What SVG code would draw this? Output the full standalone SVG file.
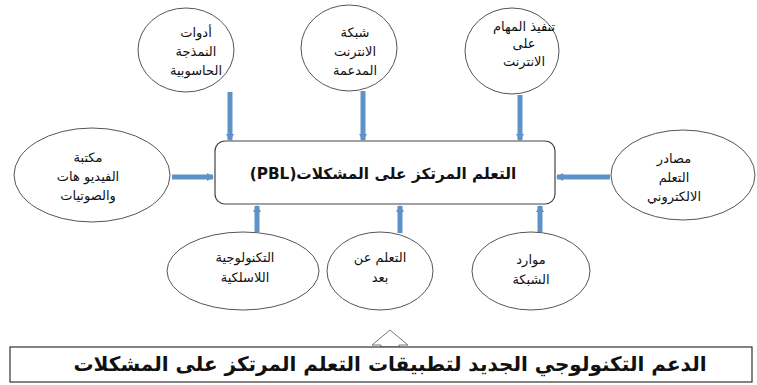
<svg xmlns="http://www.w3.org/2000/svg" width="757" height="385" viewBox="0 0 757 385">
<style>
.el{fill:#fff;stroke:#555;stroke-width:1}
.t{font-family:"DejaVu Sans","Noto Sans",sans-serif;font-size:13px;fill:#111;text-anchor:middle;direction:rtl;unicode-bidi:embed}
.b{font-weight:bold}
.c{stroke:#5f93c8;stroke-width:5;fill:none;marker-end:url(#ah)}
</style>
<defs>
<marker id="ah" markerUnits="userSpaceOnUse" markerWidth="10" markerHeight="10" refX="6" refY="5" orient="auto">
<path d="M0,1 L7,5 L0,9 Z" fill="#5f93c8"/>
</marker>
</defs>
<rect width="757" height="385" fill="#fff"/>
<g id="connectors">
<line class="c" x1="230" y1="92" x2="230" y2="140"/>
<line class="c" x1="363" y1="91" x2="363" y2="140"/>
<line class="c" x1="520" y1="95" x2="520" y2="140"/>
<line class="c" x1="172" y1="177" x2="213" y2="177"/>
<line class="c" x1="610" y1="177" x2="557" y2="177"/>
<line class="c" x1="257" y1="232" x2="257" y2="206"/>
<line class="c" x1="400" y1="233" x2="400" y2="206"/>
<line class="c" x1="540" y1="232" x2="540" y2="206"/>
<polygon points="390,330 408,345 399,345 399,347 381,347 381,345 372,345" fill="#fff" stroke="#777" stroke-width="1"/>
</g>
<g id="center">
<rect x="215" y="141" width="340" height="63" rx="10" fill="#fff" stroke="#444" stroke-width="1.2"/>
<text class="t b" x="383" y="179" style="font-size:15.3px">التعلم المرتكز على المشكلات(PBL)</text>
</g>
<g id="n1">
<ellipse class="el" cx="186" cy="50" rx="48" ry="42"/>
<text class="t" x="196" y="37">أدوات</text>
<text class="t" x="196" y="56">النمذجة</text>
<text class="t" x="196" y="75">الحاسوبية</text>
</g>
<g id="n2">
<ellipse class="el" cx="349" cy="48" rx="48" ry="43"/>
<text class="t" x="355" y="37">شبكة</text>
<text class="t" x="355" y="56">الانترنت</text>
<text class="t" x="355" y="75">المدعمة</text>
</g>
<g id="n3">
<ellipse class="el" cx="512" cy="51" rx="47" ry="43"/>
<text class="t" x="524" y="31">تنفيذ المهام</text>
<text class="t" x="524" y="48">على</text>
<text class="t" x="524" y="66">الانترنت</text>
</g>
<g id="n4">
<ellipse class="el" cx="92" cy="175" rx="78" ry="47"/>
<text class="t" x="88" y="162">مكتبة</text>
<text class="t" x="88" y="181">الفيديو هات</text>
<text class="t" x="88" y="200">والصوتيات</text>
</g>
<g id="n5">
<ellipse class="el" cx="683" cy="175" rx="72" ry="45"/>
<text class="t" x="674" y="163">مصادر</text>
<text class="t" x="674" y="182">التعلم</text>
<text class="t" x="674" y="201">الالكتروني</text>
</g>
<g id="n6">
<ellipse class="el" cx="243" cy="271" rx="76" ry="39"/>
<text class="t" x="245" y="262">التكنولوجية</text>
<text class="t" x="245" y="282">اللاسلكية</text>
</g>
<g id="n7">
<ellipse class="el" cx="380" cy="271" rx="53" ry="39"/>
<text class="t" x="380" y="262">التعلم عن</text>
<text class="t" x="380" y="282">بعد</text>
</g>
<g id="n8">
<ellipse class="el" cx="531" cy="271" rx="59" ry="39"/>
<text class="t" x="531" y="264">موارد</text>
<text class="t" x="531" y="284">الشبكة</text>
</g>
<g id="footer">
<rect x="10" y="347" width="742" height="35" fill="#fff" stroke="#333" stroke-width="1.2"/>
<text class="t b" x="390" y="371" style="font-size:20px">الدعم التكنولوجي الجديد لتطبيقات التعلم المرتكز على المشكلات</text>
</g>
</svg>
